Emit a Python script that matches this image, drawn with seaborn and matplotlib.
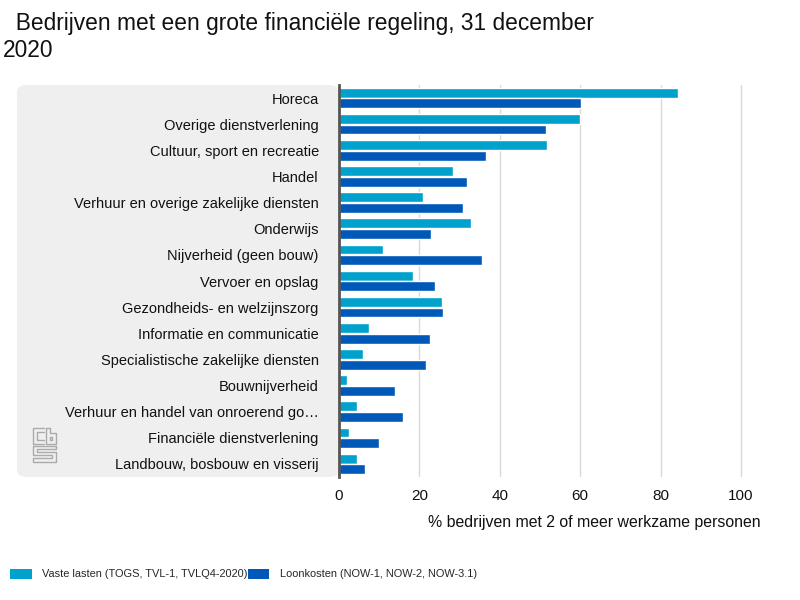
import pandas as pd
import seaborn as sns
import matplotlib.pyplot as plt
from matplotlib.patches import FancyBboxPatch, Patch
from matplotlib.lines import Line2D

sns.set_style('white')
plt.rcParams['font.family'] = ['Liberation Sans', 'DejaVu Sans']

# ---------------------------------------- data ----------------------------------------
sectors = ['Horeca', 'Overige dienstverlening', 'Cultuur, sport en recreatie', 'Handel',
           'Verhuur en overige zakelijke diensten', 'Onderwijs', 'Nijverheid (geen bouw)',
           'Vervoer en opslag', 'Gezondheids- en welzijnszorg', 'Informatie en communicatie',
           'Specialistische zakelijke diensten', 'Bouwnijverheid',
           'Verhuur en handel van onroerend go…', 'Financiële dienstverlening',
           'Landbouw, bosbouw en visserij']
vaste_lasten = [84.4, 60.0, 51.8, 28.3, 21.0, 32.9, 11.0, 18.3, 25.6, 7.4, 6.0, 2.1, 4.4, 2.4, 4.4]
loonkosten = [60.1, 51.5, 36.6, 31.9, 30.9, 23.0, 35.6, 24.0, 25.9, 22.6, 21.6, 14.0, 16.0, 10.0, 6.4]
series = ['Vaste lasten (TOGS, TVL-1, TVLQ4-2020)', 'Loonkosten (NOW-1, NOW-2, NOW-3.1)']
colors = ['#00a1cd', '#0058b8']

df = pd.DataFrame({'sector': sectors * 2,
                   'waarde': vaste_lasten + loonkosten,
                   'regeling': [series[0]] * len(sectors) + [series[1]] * len(sectors)})

# ---------------------------------------- plot ----------------------------------------
fig = plt.figure(figsize=(8, 6), dpi=100)


def px(points):
    # pixel coords (from top-left) -> figure fractions
    return [p[0] / 800 for p in points], [1 - p[1] / 600 for p in points]


# grey panel behind the category labels
fig.patches.append(FancyBboxPatch((17 / 800, 1 - 477 / 600), (339 - 17) / 800, (477 - 85) / 600,
                                  boxstyle='round,pad=0,rounding_size=0.012',
                                  transform=fig.transFigure, facecolor='#efefef',
                                  edgecolor='none', zorder=-5))

# cbs logo (rough sketch)
logo = [
    [(44, 428), (33, 428), (33, 444), (44, 444)],
    [(44, 432), (37, 432), (37, 440), (44, 440)],
    [(46, 428), (50, 428), (50, 433), (56, 433), (56, 444), (46, 444), (46, 428)],
    [(50, 437), (52, 437), (52, 440), (50, 440), (50, 437)],
    [(56, 446), (33, 446), (33, 455), (52, 455), (52, 458), (33, 458), (33, 462),
     (56, 462), (56, 452), (37, 452), (37, 449), (56, 449), (56, 446)],
]
for part in logo:
    xs, ys = px(part)
    fig.lines.append(Line2D(xs, ys, transform=fig.transFigure, color='#ababab', lw=1.0))

ax = fig.add_axes([339 / 800, 1 - 477 / 600, 422 / 800, 392 / 600])
ax.patch.set_alpha(0)
sns.barplot(data=df, y='sector', x='waarde', hue='regeling', palette=colors, saturation=1,
            orient='h', width=0.82, gap=0.08, ax=ax, legend=False, zorder=3)

ax.set_xlim(0, 105)
ax.set_xticks([0, 20, 40, 60, 80, 100])
ax.set_ylim(len(sectors) - 0.5, -0.5)
for x in [20, 40, 60, 80, 100]:
    ax.axvline(x, color='#d9d9d9', lw=1, zorder=1)
for s in ['top', 'right', 'bottom']:
    ax.spines[s].set_visible(False)
ax.spines['left'].set_color('#555555')
ax.spines['left'].set_linewidth(2)
ax.spines['left'].set_zorder(4)
ax.tick_params(axis='y', length=0, pad=14.5, labelsize=10.5, labelcolor='#111111')
ax.tick_params(axis='x', length=0, pad=9, labelsize=11, labelcolor='#111111')
ax.set_ylabel('')
ax.set_xlabel('% bedrijven met 2 of meer werkzame personen', fontsize=11.4, loc='right',
              labelpad=8, color='#111111')

# title
fig.text(0.004, 1 - 30 / 600, '  Bedrijven met een grote financiële regeling, 31 december',
         fontsize=16.4, color='#111111', va='baseline')
fig.text(0.004, 1 - 57 / 600, '2020', fontsize=16.4, color='#111111', va='baseline')

# legend
handles = [Patch(facecolor=c, edgecolor='none') for c in colors]
fig.legend(handles, series, loc='center left', bbox_to_anchor=(10 / 800, 1 - 574 / 600), ncol=2,
           frameon=False, borderpad=0, borderaxespad=0, handlelength=2.0, handleheight=1.1,
           handletextpad=0.92, columnspacing=0.0, prop={'size': 7.9})

fig.savefig('out.png', dpi=100)
